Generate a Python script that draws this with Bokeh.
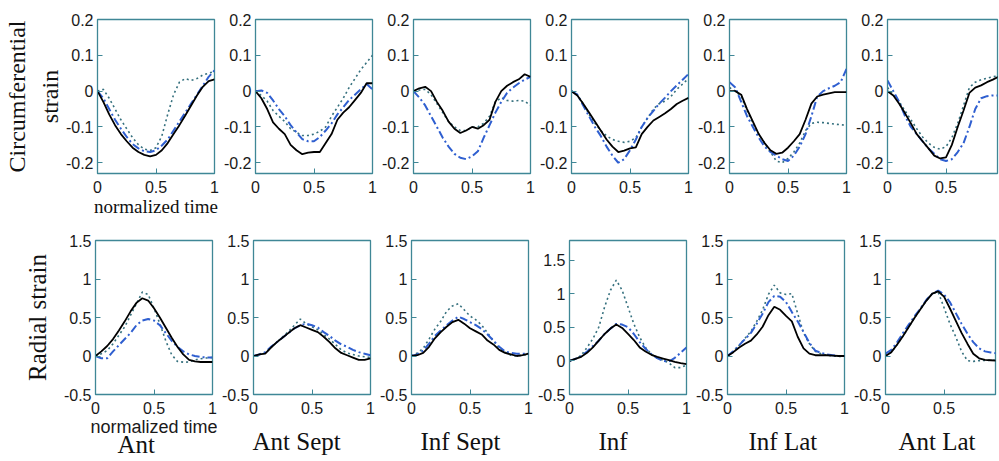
from bokeh.plotting import figure
from bokeh.layouts import column, row
from bokeh.models import FixedTicker, NumeralTickFormatter, Title, Range1d
from bokeh.embed import file_html
from bokeh.resources import INLINE

# normalized time grid
T = [0, 0.05, 0.1, 0.15, 0.2, 0.25, 0.3, 0.35, 0.4, 0.45, 0.5,
     0.55, 0.6, 0.65, 0.7, 0.75, 0.8, 0.85, 0.9, 0.95, 1.0]

SEGMENTS = ["Ant", "Ant Sept", "Inf Sept", "Inf", "Inf Lat", "Ant Lat"]
X_TICKS = [0, 0.5, 1]
CIRC_TICKS = [-0.2, -0.1, 0, 0.1, 0.2]
RAD_TICKS = [-0.5, 0, 0.5, 1, 1.5]
CIRC_LIM = [-0.23, 0.2]
RAD_LIM = [-0.5, 1.5]
RAD_INF_LIM = [-0.5, 1.79]

# ---- circumferential strain (s = solid black, d = dash-dot blue, o = dotted) ----
c_ant_s = [0, -0.03, -0.065, -0.095, -0.12, -0.14, -0.158, -0.17, -0.178, -0.182, -0.178,
           -0.165, -0.145, -0.12, -0.095, -0.068, -0.04, -0.012, 0.012, 0.028, 0.033]
c_ant_d = [0, -0.02, -0.05, -0.08, -0.105, -0.128, -0.148, -0.16, -0.168, -0.17, -0.165,
           -0.152, -0.135, -0.11, -0.085, -0.06, -0.035, -0.01, 0.015, 0.04, 0.058]
c_ant_o = [0, 0.005, -0.02, -0.05, -0.08, -0.105, -0.13, -0.15, -0.162, -0.166, -0.158,
           -0.125, -0.065, -0.01, 0.025, 0.035, 0.03, 0.035, 0.045, 0.05, 0.055]

c_as_s = [0, -0.02, -0.05, -0.087, -0.105, -0.12, -0.15, -0.165, -0.176, -0.172, -0.17,
          -0.17, -0.145, -0.12, -0.08, -0.06, -0.045, -0.025, -0.005, 0.022, 0.022]
c_as_d = [0, 0.002, -0.005, -0.026, -0.05, -0.07, -0.095, -0.115, -0.134, -0.14, -0.14,
          -0.128, -0.11, -0.09, -0.065, -0.045, -0.025, -0.01, 0.005, 0.02, 0.005]
c_as_o = [0, -0.012, -0.028, -0.054, -0.07, -0.085, -0.105, -0.115, -0.124, -0.124, -0.12,
          -0.112, -0.1, -0.07, -0.045, -0.02, 0.01, 0.035, 0.06, 0.08, 0.1]

c_is_s = [0, 0.008, 0.012, 0.0, -0.03, -0.055, -0.085, -0.105, -0.117, -0.11, -0.1,
          -0.105, -0.095, -0.08, -0.03, 0.0, 0.015, 0.025, 0.033, 0.047, 0.04]
c_is_d = [0, -0.018, -0.04, -0.07, -0.1, -0.13, -0.155, -0.175, -0.186, -0.19, -0.182,
          -0.168, -0.13, -0.095, -0.06, -0.03, -0.005, 0.01, 0.022, 0.032, 0.04]
c_is_o = [0, 0.003, 0.005, -0.01, -0.035, -0.06, -0.085, -0.1, -0.11, -0.11, -0.1,
          -0.1, -0.09, -0.07, -0.03, -0.018, -0.026, -0.028, -0.026, -0.028, -0.04]

c_inf_s = [0, -0.012, -0.035, -0.06, -0.085, -0.11, -0.135, -0.155, -0.17, -0.166, -0.16,
           -0.157, -0.12, -0.1, -0.082, -0.072, -0.062, -0.05, -0.036, -0.027, -0.019]
c_inf_d = [0, -0.01, -0.04, -0.07, -0.1, -0.125, -0.155, -0.18, -0.2, -0.19, -0.165,
           -0.135, -0.1, -0.075, -0.055, -0.035, -0.018, 0.0, 0.016, 0.032, 0.048]
c_inf_o = [0, -0.01, -0.035, -0.065, -0.09, -0.11, -0.125, -0.135, -0.14, -0.143, -0.14,
           -0.13, -0.1, -0.075, -0.05, -0.035, -0.028, -0.015, 0.005, 0.02, 0.035]

c_il_s = [0, 0.0, -0.01, -0.05, -0.085, -0.12, -0.145, -0.165, -0.175, -0.172, -0.158,
          -0.14, -0.12, -0.08, -0.035, -0.015, -0.01, -0.006, -0.003, -0.003, -0.003]
c_il_d = [0.025, 0.01, -0.03, -0.07, -0.1, -0.13, -0.155, -0.17, -0.18, -0.19, -0.195,
          -0.18, -0.155, -0.12, -0.07, -0.015, 0.0, 0.008, 0.015, 0.025, 0.062]
c_il_o = [0.01, 0.0, -0.015, -0.055, -0.09, -0.12, -0.145, -0.17, -0.195, -0.2, -0.188,
          -0.17, -0.145, -0.11, -0.09, -0.087, -0.088, -0.09, -0.092, -0.094, -0.095]

c_al_s = [0, -0.012, -0.035, -0.062, -0.09, -0.12, -0.14, -0.16, -0.18, -0.188, -0.185,
          -0.15, -0.1, -0.054, -0.005, 0.01, 0.016, 0.025, 0.032, 0.04, 0.045]
c_al_d = [0.03, 0.0, -0.03, -0.07, -0.1, -0.12, -0.14, -0.16, -0.175, -0.19, -0.195,
          -0.19, -0.17, -0.145, -0.1, -0.05, -0.02, -0.014, -0.012, -0.012, -0.012]
c_al_o = [0.01, -0.01, -0.03, -0.055, -0.08, -0.105, -0.128, -0.145, -0.157, -0.162, -0.155,
          -0.13, -0.09, -0.04, 0.01, 0.025, 0.032, 0.036, 0.04, 0.043, 0.045]

# ---- radial strain ----
r_ant_s = [0, 0.06, 0.13, 0.22, 0.33, 0.45, 0.58, 0.69, 0.75, 0.72, 0.62,
           0.5, 0.37, 0.24, 0.12, 0.02, -0.05, -0.07, -0.078, -0.078, -0.078]
r_ant_d = [0, -0.03, -0.03, 0.06, 0.14, 0.22, 0.3, 0.4, 0.46, 0.48, 0.46,
           0.4, 0.3, 0.2, 0.12, 0.06, 0.02, 0.0, -0.013, -0.02, -0.02]
r_ant_o = [0, 0.03, 0.07, 0.16, 0.27, 0.38, 0.53, 0.68, 0.83, 0.8, 0.62,
           0.42, 0.2, 0.02, -0.07, -0.08, -0.078, -0.05, -0.035, -0.025, -0.02]

r_as_s = [0, 0.02, 0.03, 0.11, 0.18, 0.24, 0.3, 0.36, 0.4, 0.37, 0.34,
          0.31, 0.25, 0.18, 0.1, 0.04, 0.01, -0.02, -0.05, -0.05, -0.03]
r_as_d = [0, 0.02, 0.05, 0.12, 0.18, 0.24, 0.3, 0.36, 0.4, 0.42, 0.4,
          0.37, 0.31, 0.26, 0.2, 0.15, 0.12, 0.08, 0.05, 0.03, 0.01]
r_as_o = [0, 0.02, 0.04, 0.11, 0.18, 0.25, 0.32, 0.4, 0.48, 0.42, 0.38,
          0.34, 0.28, 0.22, 0.15, 0.08, 0.04, 0.02, 0.0, -0.01, -0.02]

r_is_s = [0, 0.01, 0.04, 0.12, 0.23, 0.31, 0.38, 0.44, 0.47, 0.42, 0.36,
          0.32, 0.28, 0.2, 0.15, 0.08, 0.04, 0.02, 0.0, 0.01, 0.03]
r_is_d = [0, 0.02, 0.07, 0.16, 0.26, 0.33, 0.4, 0.46, 0.51, 0.48, 0.44,
          0.4, 0.35, 0.28, 0.2, 0.12, 0.06, 0.04, 0.03, 0.03, 0.03]
r_is_o = [0, 0.04, 0.1, 0.22, 0.35, 0.45, 0.58, 0.65, 0.68, 0.6, 0.52,
          0.47, 0.4, 0.3, 0.2, 0.1, 0.05, 0.01, 0.0, 0.01, 0.02]

r_inf_s = [0, 0.03, 0.06, 0.12, 0.2, 0.3, 0.4, 0.48, 0.54, 0.49, 0.4,
           0.31, 0.2, 0.14, 0.09, 0.06, 0.035, 0.01, -0.015, -0.035, -0.05]
r_inf_d = [0, 0.03, 0.07, 0.14, 0.22, 0.3, 0.4, 0.48, 0.55, 0.54, 0.5,
           0.4, 0.28, 0.18, 0.1, 0.04, 0.0, -0.01, 0.045, 0.12, 0.2]
r_inf_o = [0, 0.03, 0.08, 0.2, 0.33, 0.5, 0.8, 1.05, 1.2, 1.05, 0.8,
           0.55, 0.35, 0.2, 0.1, 0.04, 0.01, -0.03, -0.1, -0.1, -0.06]

r_il_s = [0, 0.05, 0.11, 0.16, 0.2, 0.28, 0.38, 0.53, 0.64, 0.6, 0.52,
          0.45, 0.25, 0.1, 0.03, 0.01, 0.01, 0.01, 0.005, 0.0, 0.0]
r_il_d = [0, 0.06, 0.14, 0.22, 0.3, 0.42, 0.55, 0.7, 0.78, 0.77, 0.7,
          0.57, 0.45, 0.31, 0.17, 0.07, 0.04, 0.02, 0.01, 0.0, 0.0]
r_il_o = [0, 0.06, 0.14, 0.23, 0.32, 0.45, 0.6, 0.8, 0.92, 0.82, 0.8,
          0.81, 0.55, 0.3, 0.16, 0.06, 0.03, 0.01, 0.0, -0.005, -0.005]

r_al_s = [0, 0.05, 0.15, 0.26, 0.38, 0.5, 0.61, 0.72, 0.81, 0.84, 0.77,
          0.62, 0.46, 0.3, 0.16, 0.03, -0.03, -0.05, -0.055, -0.062, -0.065]
r_al_d = [0.03, 0.08, 0.18, 0.3, 0.41, 0.52, 0.62, 0.73, 0.81, 0.85, 0.8,
          0.7, 0.56, 0.42, 0.29, 0.18, 0.1, 0.06, 0.045, 0.035, 0.03]
r_al_o = [0, 0.05, 0.15, 0.26, 0.38, 0.5, 0.61, 0.72, 0.81, 0.83, 0.63,
          0.42, 0.25, 0.06, -0.06, -0.07, -0.06, -0.057, -0.056, -0.056, -0.056]

CIRC = [(c_ant_s, c_ant_d, c_ant_o), (c_as_s, c_as_d, c_as_o), (c_is_s, c_is_d, c_is_o),
        (c_inf_s, c_inf_d, c_inf_o), (c_il_s, c_il_d, c_il_o), (c_al_s, c_al_d, c_al_o)]
RAD = [(r_ant_s, r_ant_d, r_ant_o), (r_as_s, r_as_d, r_as_o), (r_is_s, r_is_d, r_is_o),
       (r_inf_s, r_inf_d, r_inf_o), (r_il_s, r_il_d, r_il_o), (r_al_s, r_al_d, r_al_o)]

# left offset of each column label from its panel's left edge (px)
LABEL_OFFSETS = [22, -1, 9, 29, 21, 13]

BOX = "#3f8796"
SANS = "Liberation Sans"
SERIF = "Liberation Serif"
FRAME_W = 117
FRAME_H = 154
LAST_W = 110
STEP = 158
RIGHT = 5


def make_panel(series, ylim, yticks, left, fw, right, top, bottom, xend):
    p = figure(frame_width=fw, frame_height=FRAME_H,
               min_border_left=left, min_border_right=right,
               min_border_top=top, min_border_bottom=bottom,
               x_range=Range1d(0, xend), y_range=Range1d(ylim[0], ylim[1]),
               output_backend="svg", toolbar_location=None, title=None,
               background_fill_color="white", border_fill_color="white",
               outline_line_color=BOX, outline_line_width=1.3)
    p.grid.visible = False
    for ax, ticks in ((p.xaxis, X_TICKS), (p.yaxis, yticks)):
        ax.ticker = FixedTicker(ticks=ticks)
        ax.formatter = NumeralTickFormatter(format="0.[0]")
        ax.major_tick_in = 5
        ax.major_tick_out = 0
        ax.minor_tick_line_color = None
        ax.major_tick_line_color = BOX
        ax.axis_line_color = BOX
        ax.major_label_text_font = SANS
        ax.major_label_text_font_size = "16px"
        ax.major_label_text_color = "#1a1a1a"
    p.xaxis.major_label_standoff = 7
    p.yaxis.major_label_standoff = 4
    s, d, o = series
    p.line(T, o, line_color="#35707e", line_width=1.6, line_dash="2 3")
    p.line(T, d, line_color="#2f5fd0", line_width=2.0, line_dash="8 3 2 3")
    p.line(T, s, line_color="black", line_width=1.8)
    return p


top_row = []
bottom_row = []
for i in range(6):
    last = i == 5
    fw = LAST_W if last else FRAME_W
    xend = LAST_W / FRAME_W if last else 1
    inner_left = STEP - FRAME_W - RIGHT
    # top row: circumferential strain
    right_t = 999 - (97 + 5 * STEP + LAST_W) if last else RIGHT
    pt = make_panel(CIRC[i], CIRC_LIM, CIRC_TICKS, 97 if i == 0 else inner_left,
                    fw, right_t, 19, 57, xend)
    if i == 0:
        pt.yaxis.axis_label = "Circumferential\nstrain"
        pt.yaxis.axis_label_text_font = SERIF
        pt.yaxis.axis_label_text_font_size = "24px"
        pt.yaxis.axis_label_text_font_style = "normal"
        pt.yaxis.axis_label_text_line_height = 1.25
        pt.yaxis.axis_label_text_color = "#111111"
        pt.yaxis.axis_label_standoff = 0
        pt.xaxis.axis_label = "normalized time"
        pt.xaxis.axis_label_text_font = SERIF
        pt.xaxis.axis_label_text_font_size = "19px"
        pt.xaxis.axis_label_text_font_style = "normal"
        pt.xaxis.axis_label_text_color = "#111111"
        pt.xaxis.axis_label_standoff = 0
    top_row.append(pt)

    # bottom row: radial strain
    lim = RAD_INF_LIM if i == 3 else RAD_LIM
    pb = make_panel(RAD[i], lim, RAD_TICKS, 95 if i == 0 else inner_left,
                    fw, 4 if last else RIGHT, 10, 66, xend)
    if i == 0:
        pb.yaxis.axis_label = "Radial strain"
        pb.yaxis.axis_label_text_font = SERIF
        pb.yaxis.axis_label_text_font_size = "25px"
        pb.yaxis.axis_label_text_font_style = "normal"
        pb.yaxis.axis_label_text_color = "#111111"
        pb.yaxis.axis_label_standoff = 10
        pb.xaxis.axis_label = "normalized time"
        pb.xaxis.axis_label_text_font = SANS
        pb.xaxis.axis_label_text_font_size = "18px"
        pb.xaxis.axis_label_text_font_style = "normal"
        pb.xaxis.axis_label_text_color = "#1a1a1a"
        pb.xaxis.axis_label_standoff = 0
        standoff = -18
    else:
        standoff = 22
    pb.add_layout(Title(text=SEGMENTS[i], align="left", offset=LABEL_OFFSETS[i],
                        vertical_align="top",
                        text_font=SERIF, text_font_size="25px",
                        text_font_style="normal", text_color="#111111",
                        standoff=standoff), "below")
    bottom_row.append(pb)

layout = column(row(*top_row), row(*bottom_row))
open("out.html", "w").write(file_html(layout, INLINE))
